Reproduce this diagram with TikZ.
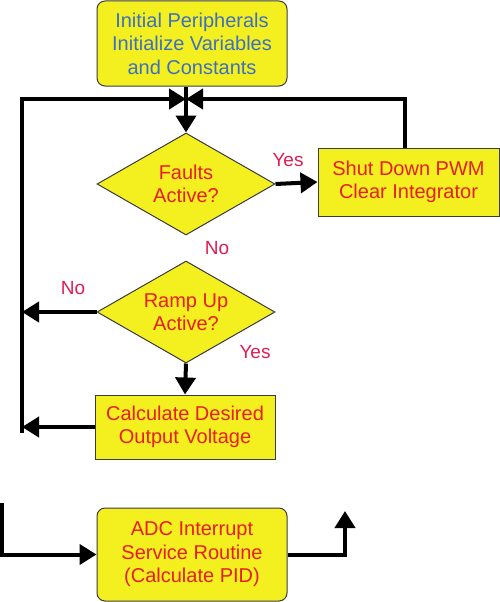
\documentclass[tikz,border=0pt]{standalone}
\usepackage{fontspec}
\setmainfont{Liberation Sans}
\usetikzlibrary{shapes.geometric,arrows.meta}
\definecolor{boxyellow}{RGB}{244,240,32}
\definecolor{boxline}{RGB}{60,60,60}
\definecolor{boxred}{RGB}{232,30,30}
\definecolor{boxblue}{RGB}{60,112,192}
\definecolor{lblred}{RGB}{222,30,80}
\begin{document}
\begin{tikzpicture}[x=1pt,y=-1pt,
  box/.style={draw=boxline,line width=1pt,fill=boxyellow,inner sep=0pt,align=center,
    font=\fontsize{20}{23.5}\selectfont,text=boxred},
  rbox/.style={box,rounded corners=8pt},
  dia/.style={diamond,draw=boxline,line width=1pt,fill=boxyellow,inner sep=0pt},
  txt/.style={align=center,font=\fontsize{20}{23.5}\selectfont,text=boxred,inner sep=0pt},
  lbl/.style={font=\fontsize{19}{21}\selectfont,text=lblred,inner sep=0pt},
  arr/.style={line width=4pt,-{Triangle[length=17pt,width=20pt]}},
  ln/.style={line width=4pt}]
\useasboundingbox (0,0) rectangle (500,602);

\node[rbox,text=boxblue,minimum width=190pt,minimum height=85pt] (init) at (192,43.5)
  {Initial Peripherals\\Initialize Variables\\and Constants};
\node[dia,minimum width=178pt,minimum height=102pt] (d1) at (186,184) {};
\node[txt] (d1t) at (d1) {Faults\\Active?};
\node[box,minimum width=181pt,minimum height=68pt] (sd) at (408.5,182)
  {Shut Down PWM\\Clear Integrator};
\node[dia,minimum width=178pt,minimum height=102pt] (d2) at (186,312) {};
\node[txt] (d2t) at (d2) {Ramp Up\\Active?};
\node[box,minimum width=180pt,minimum height=64pt] (calc) at (185,427)
  {Calculate Desired\\Output Voltage};
\node[rbox,minimum width=190pt,minimum height=93pt] (adc) at (192,554.5)
  {ADC Interrupt\\Service Routine\\(Calculate PID)};

\node[lbl] (yes1) at (288,160) {Yes};
\node[lbl] (no1) at (217,248) {No};
\node[lbl] (no2) at (73,288) {No};
\node[lbl] (yes2) at (255,352) {Yes};

\coordinate (J) at (186,99);
\coordinate (Ltop) at (22,99);
\coordinate (Lbot) at (22,433);
\coordinate (Rtop) at (405,99);
\coordinate (Bstart) at (2,503);
\coordinate (Eend) at (345,511);

\draw[arr] (init.south -| J) -- (d1.north);
\draw[arr] (Lbot) -- (Ltop) -- (J);
\draw[arr] (sd.north -| Rtop) -- (Rtop) -- (J);
\draw[arr] (d1.east) -- (sd.west);
\draw[arr] (d2.west) -- (d2.west -| Ltop);
\draw[arr] (d2.south) -- (calc.north);
\draw[arr] (calc.west) -- (calc.west -| Ltop);
\draw[arr] (Bstart) -- (Bstart |- adc.west) -- (adc.west);
\draw[arr] (adc.east) -- (adc.east -| Eend) -- (Eend);
\end{tikzpicture}
\end{document}
